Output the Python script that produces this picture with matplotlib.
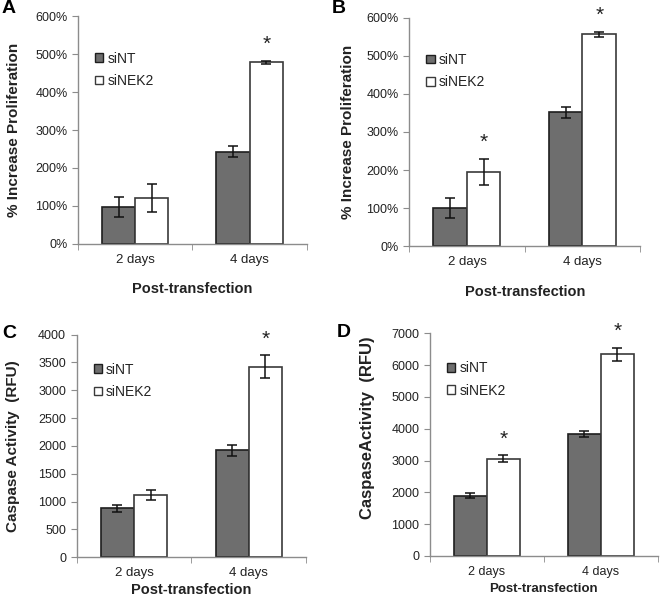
import matplotlib.pyplot as plt
from matplotlib.patches import Patch
from matplotlib.ticker import PercentFormatter

plt.rcParams['font.family'] = ['Liberation Sans', 'DejaVu Sans']

categories = ["2 days", "4 days"]
series_names = ["siNT", "siNEK2"]

# panel A: % increase proliferation
a_sint = [98, 243]
a_sint_err = [26, 14]
a_sinek2 = [122, 479]
a_sinek2_err = [37, 4]
a_star = [False, True]

# panel B
b_sint = [100, 351]
b_sint_err = [26, 15]
b_sinek2 = [195, 556]
b_sinek2_err = [35, 6]
b_star = [True, True]

# panel C: caspase activity (RFU)
c_sint = [880, 1920]
c_sint_err = [60, 100]
c_sinek2 = [1120, 3420]
c_sinek2_err = [90, 205]
c_star = [False, True]

# panel D
d_sint = [1890, 3840]
d_sint_err = [80, 100]
d_sinek2 = [3050, 6340]
d_sinek2_err = [110, 200]
d_star = [True, True]

GRAY = "#6e6e6e"
AXIS = "#8c8c8c"
TXT = "#222222"


def draw_panel(ax, v1, e1, v2, e2, stars, ymax, ystep, ylabel, pct,
               ypad, xpad, leg_y, ylab_fs=11, xlab_fs=10.5, xtick_fs=9.5, ylab_y=0.5):
    x = range(len(categories))
    w = 0.29
    x1 = [i - w / 2 for i in x]
    x2 = [i + w / 2 for i in x]
    ax.bar(x1, v1, w, color=GRAY, edgecolor="#1e1e1e", linewidth=1.2, zorder=2)
    ax.bar(x2, v2, w, color="white", edgecolor="#3a3a3a", linewidth=1.2, zorder=2)
    ekw = dict(fmt="none", ecolor="#111111", elinewidth=1.1, capsize=3.5, capthick=1.1, zorder=3)
    ax.errorbar(x1, v1, yerr=e1, **ekw)
    ax.errorbar(x2, v2, yerr=e2, **ekw)
    for i, s in enumerate(stars):
        if s:
            ax.text(x2[i], v2[i] + e2[i] + ymax * 0.03, "*", ha="center", va="bottom",
                    fontsize=15, color=TXT)

    ax.set_xlim(-0.5, 1.5)
    ax.set_ylim(0, ymax)
    ax.set_yticks(range(0, ymax + 1, ystep))
    if pct:
        ax.yaxis.set_major_formatter(PercentFormatter(decimals=0))
    ax.set_xticks([0, 1])
    ax.set_xticklabels(categories)
    ax.set_xticks([-0.5, 0.5, 1.5], minor=True)
    ax.tick_params(axis="x", which="major", length=0, pad=7, labelsize=xtick_fs, labelcolor=TXT)
    ax.tick_params(axis="x", which="minor", length=4, color=AXIS, direction="out")
    ax.tick_params(axis="y", length=4, color=AXIS, labelsize=9, labelcolor=TXT)

    for sp in ["top", "right"]:
        ax.spines[sp].set_visible(False)
    for sp in ["left", "bottom"]:
        ax.spines[sp].set_color(AXIS)
        ax.spines[sp].set_linewidth(1)

    ax.set_ylabel(ylabel, fontsize=ylab_fs, fontweight="bold", color=TXT,
                  labelpad=ypad, y=ylab_y)
    ax.set_xlabel("Post-transfection", fontsize=xlab_fs, fontweight="bold", color=TXT, labelpad=xpad)

    handles = [Patch(facecolor=GRAY, edgecolor="#1e1e1e"),
               Patch(facecolor="white", edgecolor="#3a3a3a")]
    ax.legend(handles, series_names, loc="upper left", bbox_to_anchor=(0.02, leg_y),
              frameon=False, fontsize=10, handlelength=0.6, handleheight=0.6,
              handletextpad=0.3, labelspacing=0.6, labelcolor=TXT)


fig = plt.figure(figsize=(6.6, 6.05), dpi=100)
axA = fig.add_axes([0.118, 0.597, 0.347, 0.376])
axB = fig.add_axes([0.620, 0.593, 0.350, 0.378])
axC = fig.add_axes([0.116, 0.079, 0.348, 0.368])
axD = fig.add_axes([0.651, 0.081, 0.346, 0.368])

draw_panel(axA, a_sint, a_sint_err, a_sinek2, a_sinek2_err, a_star, 600, 100,
           "% Increase Proliferation", True, 10, 12, 0.90)
draw_panel(axB, b_sint, b_sint_err, b_sinek2, b_sinek2_err, b_star, 600, 100,
           "% Increase Proliferation", True, 8, 12, 0.90)
draw_panel(axC, c_sint, c_sint_err, c_sinek2, c_sinek2_err, c_star, 4000, 500,
           "Caspase Activity  (RFU)", False, 13, 3, 0.93)
draw_panel(axD, d_sint, d_sint_err, d_sinek2, d_sinek2_err, d_star, 7000, 1000,
           "CaspaseActivity  (RFU)", False, 12, 4, 0.93,
           ylab_fs=12, xlab_fs=9.5, xtick_fs=9, ylab_y=0.575)

# panel letters
for letter, lx, ly in [("A", 0.003, 1.0), ("B", 0.503, 1.0),
                       ("C", 0.003, 0.462), ("D", 0.510, 0.465)]:
    fig.text(lx, ly, letter, fontsize=14, fontweight="bold", color="black",
             ha="left", va="top")

fig.savefig("out.png", dpi=100, facecolor="white")
